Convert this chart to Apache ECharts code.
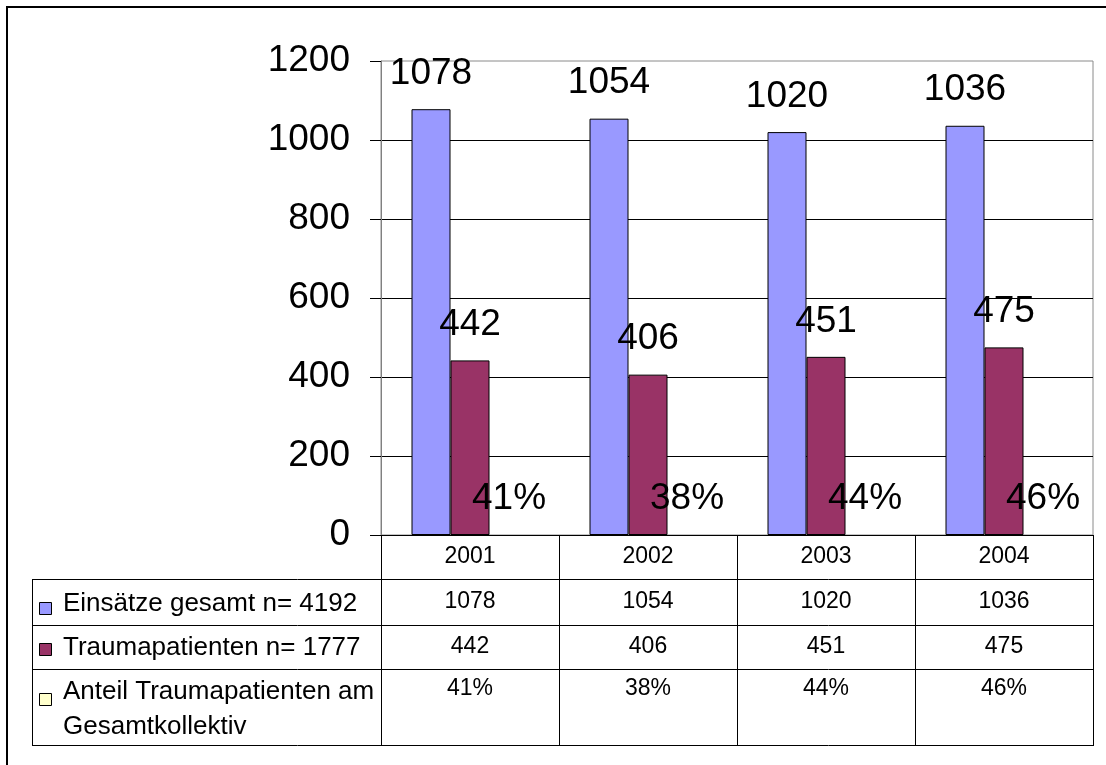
<!DOCTYPE html>
<html>
<head>
<meta charset="utf-8">
<script src="https://cdn.jsdelivr.net/npm/echarts@6/dist/echarts.min.js"></script>
<style>
  html, body { margin: 0; padding: 0; background: #ffffff; }
  #chart { width: 1106px; height: 765px; }
</style>
</head>
<body>
<div id="chart"></div>
<script>
// Rettungseinsätze 2001–2004
const years = ['2001', '2002', '2003', '2004'];
const einsaetze = [1078, 1054, 1020, 1036];
const trauma = [442, 406, 451, 475];
const anteil = [0.41, 0.38, 0.44, 0.46];
const seriesNames = [
  'Einsätze gesamt n= 4192',
  'Traumapatienten n= 1777',
  'Anteil Traumapatienten am\nGesamtkollektiv'
];
const seriesColors = ['#9999ff', '#993366', '#ffffcc'];
const yMin = 0, yMax = 1200, yStep = 200;

const FONT = '"Liberation Sans", Arial, sans-serif';
const pct = v => Math.round(v * 100) + '%';

const chart = echarts.init(document.getElementById('chart'), null, { renderer: 'canvas' });

const barLabel = {
  show: true,
  position: 'top',
  distance: 17,
  color: '#000',
  fontSize: 37,
  fontFamily: FONT
};

function barSeries(i, values, fmt) {
  return {
    name: seriesNames[i],
    type: 'bar',
    data: values,
    barWidth: 39,
    barGap: '0%',
    itemStyle: { color: seriesColors[i], borderColor: i < 2 ? '#000' : 'transparent', borderWidth: 1 },
    label: Object.assign({}, barLabel, fmt ? { formatter: p => fmt(p.value) } : {}),
    emphasis: { disabled: true },
    animation: false
  };
}

chart.setOption({
  animation: false,
  grid: {
    left: 381, right: 13, top: 61, bottom: 230,
    show: true, borderColor: '#8a8a8a', borderWidth: 1, backgroundColor: 'transparent'
  },
  xAxis: {
    type: 'category',
    data: years,
    boundaryGap: true,
    axisLine: { show: true, lineStyle: { color: '#000', width: 1 } },
    axisTick: { show: true, length: 210, lineStyle: { color: '#000', width: 1 } },
    axisLabel: { color: '#000', fontSize: 23, fontFamily: FONT, margin: 10 },
    splitLine: { show: false }
  },
  yAxis: {
    type: 'value',
    min: yMin, max: yMax, interval: yStep,
    axisLine: { show: true, lineStyle: { color: '#808080', width: 1 } },
    axisTick: { show: true, length: 11, lineStyle: { color: '#000', width: 1 } },
    axisLabel: { color: '#000', fontSize: 37, fontFamily: FONT, margin: 31, formatter: v => String(v) },
    splitLine: { show: true, showMaxLine: false, lineStyle: { color: '#000', width: 1 } }
  },
  series: [
    barSeries(0, einsaetze),
    barSeries(1, trauma),
    barSeries(2, anteil, pct)
  ]
});

// Data table below the plot: legend keys on the left, values in the year columns
const tableLeft = 32;
const tableRight = 1093;
const rowLines = [579, 625, 669, 745];
const rowValueY = [602, 647, 689];
const rowSwatchY = [608, 649, 699];
const rowValues = [einsaetze.map(String), trauma.map(String), anteil.map(pct)];

const colX = years.map(y => chart.convertToPixel({ xAxisIndex: 0 }, y));

const elements = [];
// outer frame
elements.push({
  type: 'rect', silent: true,
  shape: { x: 7, y: 7, width: 1120, height: 780 },
  style: { fill: 'none', stroke: '#000', lineWidth: 2 }
});
// horizontal table rules
rowLines.forEach(y => {
  elements.push({
    type: 'line', silent: true,
    shape: { x1: tableLeft, y1: y + 0.5, x2: tableRight + 1, y2: y + 0.5 },
    style: { stroke: '#000', lineWidth: 1 }
  });
});
// left edge of the key column
elements.push({
  type: 'line', silent: true,
  shape: { x1: tableLeft + 0.5, y1: rowLines[0], x2: tableLeft + 0.5, y2: rowLines[3] + 1 },
  style: { stroke: '#000', lineWidth: 1 }
});
// legend keys
seriesNames.forEach((name, i) => {
  elements.push({
    type: 'rect', silent: true,
    shape: { x: 39.5, y: rowSwatchY[i] - 6 + 0.5, width: 12, height: 12 },
    style: { fill: seriesColors[i], stroke: '#000', lineWidth: 1 }
  });
  if (i < 2) {
    elements.push({
      type: 'text', silent: true, x: 63, y: i === 0 ? 604 : 648,
      style: { text: name, fill: '#000', font: '26px ' + FONT, textAlign: 'left', textVerticalAlign: 'middle' }
    });
  } else {
    elements.push({
      type: 'text', silent: true, x: 63, y: 674.5,
      style: { text: name, fill: '#000', font: '26px ' + FONT, lineHeight: 35, textAlign: 'left', textVerticalAlign: 'top' }
    });
  }
});
// values per year
rowValues.forEach((vals, r) => {
  vals.forEach((v, c) => {
    elements.push({
      type: 'text', silent: true, x: colX[c], y: rowValueY[r],
      style: { text: v, fill: '#000', font: '23px ' + FONT, textAlign: 'center', textVerticalAlign: 'middle' }
    });
  });
});

chart.setOption({ graphic: { elements: elements } });
</script>
</body>
</html>
